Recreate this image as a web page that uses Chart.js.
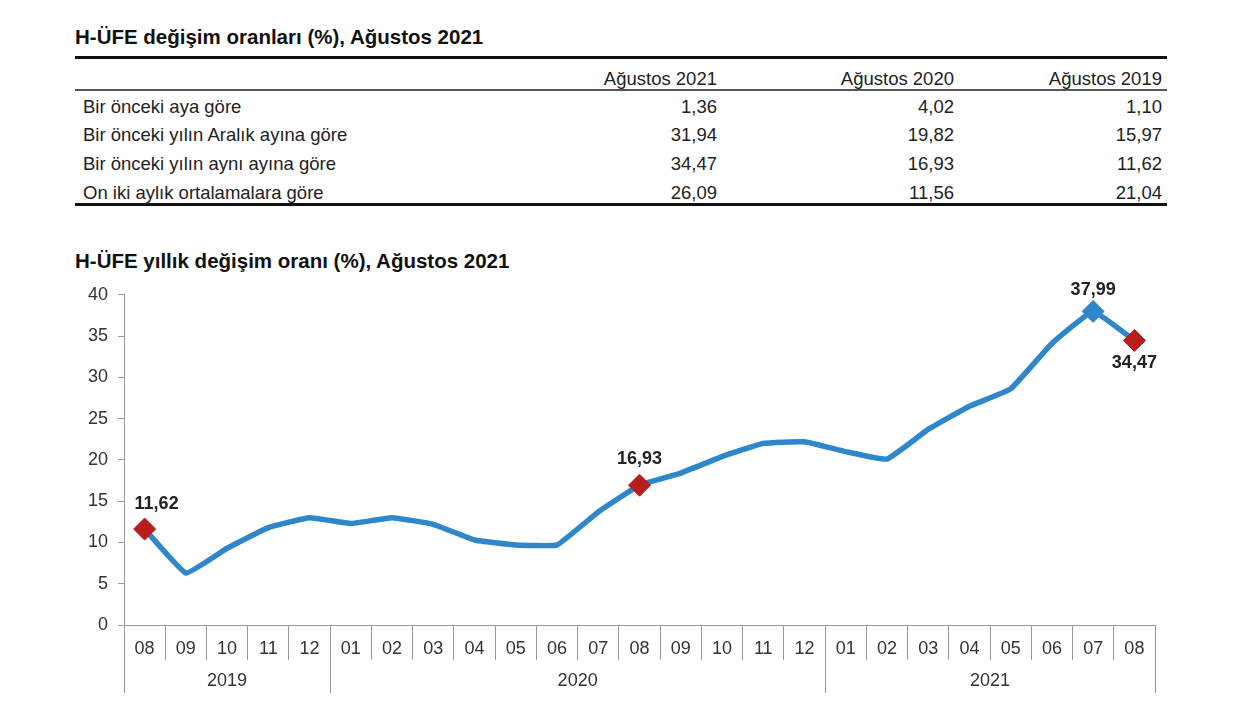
<!DOCTYPE html>
<html>
<head>
<meta charset="utf-8">
<script src="https://cdn.jsdelivr.net/npm/chart.js@4"></script>
<style>
  body{margin:0;background:#fff;font-family:Arial,"Liberation Sans",sans-serif;color:#222;}
  #page{position:relative;width:1240px;height:719px;overflow:hidden;}
  .title{position:absolute;left:75px;font-weight:bold;font-size:20.5px;color:#111;}
  .hline{position:absolute;left:75px;width:1092px;background:#111;}
  .cell{position:absolute;font-size:18.5px;color:#222;white-space:nowrap;line-height:20px;}
  .num{text-align:right;width:200px;}
  #chart_wrap{position:absolute;left:0;top:274px;width:1240px;height:445px;}
</style>
</head>
<body>
<div id="page">
  <div class="title" style="top:25px;">H-ÜFE değişim oranları (%), Ağustos 2021</div>
  <div class="hline" style="top:56px;height:3px;"></div>
  <div class="hline" style="top:89px;height:2px;background:#555;"></div>
  <div class="hline" style="top:203px;height:3px;"></div>
  <div id="table_div"></div>
  <div class="title" style="top:249px;">H-ÜFE yıllık değişim oranı (%), Ağustos 2021</div>
  <div id="chart_wrap"><canvas id="first_canvas" width="1240" height="445"></canvas></div>
</div>
<script>
// table data
const table_cols = ["Ağustos 2021", "Ağustos 2020", "Ağustos 2019"];
const table_rows = ["Bir önceki aya göre", "Bir önceki yılın Aralık ayına göre", "Bir önceki yılın aynı ayına göre", "On iki aylık ortalamalara göre"];
const table_2021 = ["1,36", "31,94", "34,47", "26,09"];
const table_2020 = ["4,02", "19,82", "16,93", "11,56"];
const table_2019 = ["1,10", "15,97", "11,62", "21,04"];

// chart data
const months = ["08","09","10","11","12","01","02","03","04","05","06","07","08","09","10","11","12","01","02","03","04","05","06","07","08"];
const years = ["2019","2019","2019","2019","2019","2020","2020","2020","2020","2020","2020","2020","2020","2020","2020","2020","2020","2021","2021","2021","2021","2021","2021","2021","2021"];
const yearly_change = [11.62, 6.3, 9.3, 11.8, 13.0, 12.3, 13.0, 12.2, 10.3, 9.7, 9.7, 13.7, 16.93, 18.4, 20.4, 22.0, 22.2, 21.0, 20.1, 23.7, 26.5, 28.6, 34.1, 37.99, 34.47];
const marked = {0: "below", 12: "above", 23: "above", 24: "below"};
const y_ticks = [0, 5, 10, 15, 20, 25, 30, 35, 40];

const line_color = "#2e87cb";
const red_color = "#b81c1c";

//table rendering
const table_div = document.getElementById("table_div");
const col_right = [717, 954, 1162];
const row_top = [97, 125, 154, 183];
let html = "";
table_cols.forEach((c, i) => {
  html += `<div class="cell num" style="top:69px;left:${col_right[i]-200}px;">${c}</div>`;
});
const col_vals = [table_2021, table_2020, table_2019];
table_rows.forEach((r, j) => {
  html += `<div class="cell" style="top:${row_top[j]}px;left:83px;">${r}</div>`;
  col_vals.forEach((vals, i) => {
    html += `<div class="cell num" style="top:${row_top[j]}px;left:${col_right[i]-200}px;">${vals[j]}</div>`;
  });
});
table_div.innerHTML = html;

function fmt(v){ return v.toFixed(2).replace(".", ","); }

// year groups + long separators under the x axis, value labels
const yearPlugin = {
  id: "years",
  afterDraw(chart){
    const ctx = chart.ctx;
    const xs = chart.scales.x;
    const half = (xs.getPixelForValue(1) - xs.getPixelForValue(0)) / 2;
    const top = chart.chartArea.bottom;
    ctx.save();
    ctx.strokeStyle = "#999";
    ctx.lineWidth = 1;
    ctx.fillStyle = "#333";
    ctx.font = "18px Arial, 'Liberation Sans'";
    ctx.textAlign = "center";
    ctx.textBaseline = "middle";
    let start = 0;
    for(let i = 1; i <= years.length; i++){
      if(i === years.length || years[i] !== years[start]){
        const x0 = xs.getPixelForValue(start) - half;
        const x1 = xs.getPixelForValue(i - 1) + half;
        [x0, x1].forEach(x => {
          ctx.beginPath();
          ctx.moveTo(Math.round(x) + 0.5, top);
          ctx.lineTo(Math.round(x) + 0.5, top + 68);
          ctx.stroke();
        });
        ctx.fillText(years[start], (x0 + x1) / 2, top + 56);
        start = i;
      }
    }
    ctx.font = "bold 18px Arial, 'Liberation Sans'";
    ctx.fillStyle = "#222";
    const meta = chart.getDatasetMeta(0);
    for(const key in marked){
      const idx = Number(key);
      const pt = meta.data[idx];
      let x = pt.x, y = pt.y;
      if(idx === 0){ x += 12; y -= 25; }
      else if(idx === 23){ y -= 21; }
      else if(marked[key] === "above"){ y -= 26; }
      else { y += 23; }
      ctx.fillText(fmt(yearly_change[idx]), x, y);
    }
    ctx.restore();
  }
};

const ctx_1 = document.getElementById("first_canvas");

const point_radius = yearly_change.map((v, i) => (i in marked) ? 11 : 0);
const point_colors = yearly_change.map((v, i) => i === 23 ? line_color : red_color);

new Chart(ctx_1, {
  type: "line",
  data: {
    labels: months,
    datasets: [{
      data: yearly_change,
      borderColor: line_color,
      borderWidth: 5.5,
      tension: 0.1,
      pointStyle: "rectRot",
      pointRadius: point_radius,
      pointHoverRadius: point_radius,
      pointBackgroundColor: point_colors,
      pointBorderColor: point_colors,
      pointBorderWidth: 1
    }]
  },
  options: {
    responsive: false,
    animation: false,
    devicePixelRatio: 1,
    layout: { padding: { top: 8, right: 85, left: 0, bottom: 0 } },
    plugins: { legend: { display: false }, tooltip: { enabled: false } },
    scales: {
      x: {
        offset: true,
        grid: { offset: true, drawOnChartArea: false, color: "#999", tickLength: 35 },
        border: { color: "#999" },
        ticks: { color: "#333", font: { size: 18, family: "Arial, 'Liberation Sans'" }, padding: -22, maxRotation: 0, autoSkip: false },
        afterFit(scale){ scale.height = 94; }
      },
      y: {
        min: 0, max: 40,
        afterBuildTicks(scale){ scale.ticks = y_ticks.map(v => ({ value: v })); },
        grid: { drawOnChartArea: false, color: "#999", tickLength: 6 },
        border: { color: "#999" },
        ticks: { color: "#333", font: { size: 18, family: "Arial, 'Liberation Sans'" }, padding: 10 },
        afterFit(scale){ scale.width = 124; }
      }
    }
  },
  plugins: [yearPlugin]
});
</script>
</body>
</html>
